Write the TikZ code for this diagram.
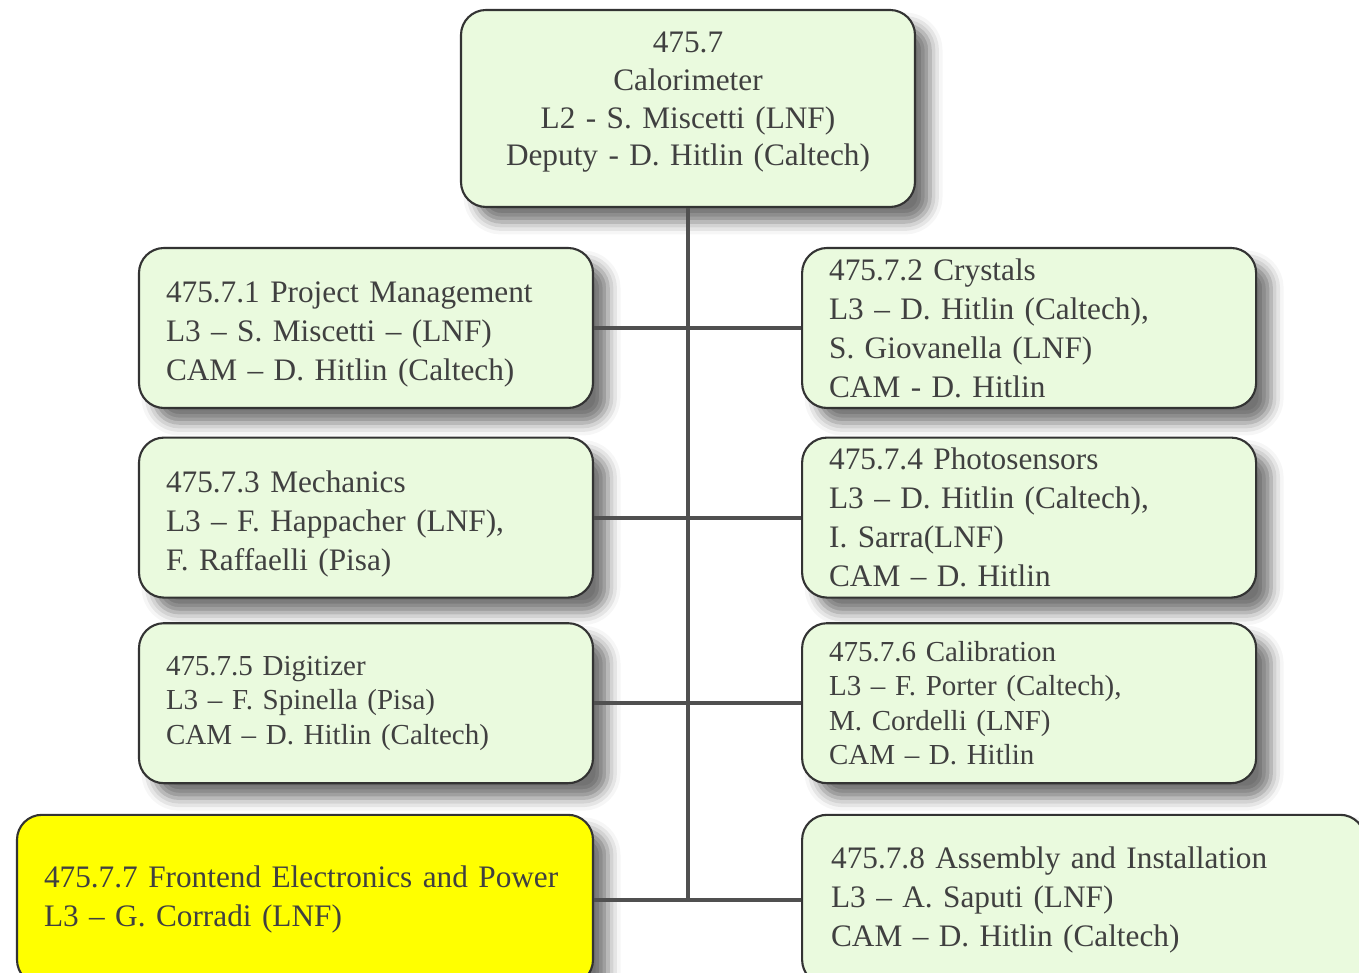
\documentclass[tikz,border=0pt]{standalone}
\usepackage{fontspec}
\setmainfont{Liberation Serif}
\usetikzlibrary{positioning,shadows.blur}
\definecolor{wbsgreen}{RGB}{234,250,222}
\definecolor{wbsyellow}{RGB}{255,255,0}
\definecolor{wbsline}{RGB}{80,80,80}
\definecolor{wbstext}{RGB}{64,64,64}

\begin{document}
\begin{tikzpicture}[thick,
  wbs/.style={rectangle,draw=black!80,line width=1.2pt,rounded corners=5mm,fill=wbsgreen,
                blur shadow={shadow xshift=3mm,shadow yshift=-3mm,shadow blur radius=2.5mm,shadow opacity=55},
                minimum width=9.08cm,minimum height=3.2cm,
                inner xsep=0.54cm,text width=8cm,align=left,
                text=wbstext,font=\fontsize{17.8}{22.2}\selectfont},
  wbs-small/.style={wbs,font=\fontsize{16.5}{19.7}\selectfont},
  wbs-top/.style={wbs,minimum height=3.94cm,align=center,font=\fontsize{17.8}{21.4}\selectfont},
  wbs-low/.style={wbs,minimum height=3.4cm},
  link/.style={-,draw=wbsline,line width=2.3pt}]
  \useasboundingbox (0,0) rectangle (27.18,19.46);

    \node[wbs-top] (CAL) at (13.76,17.29) {475.7\\ Calorimeter\\ L2 - S. Miscetti (LNF)\\ Deputy - D. Hitlin (Caltech)\par\vspace*{2.4mm}};
    % left column
    \node[wbs] (PM) at (7.32,12.9) {475.7.1 Project Management\\ L3 -- S. Miscetti -- (LNF)\\ CAM -- D. Hitlin (Caltech)\par\vspace*{-2.4mm}};
    \node[wbs] (MECH) [below=0.55cm of PM] {475.7.3 Mechanics\\ L3 -- F. Happacher (LNF),\\ F. Raffaelli (Pisa)\par\vspace*{-2.4mm}};
    \node[wbs-small] (DIGI) [below=0.47cm of MECH] {475.7.5 Digitizer\\ L3 -- F. Spinella (Pisa)\\ CAM -- D. Hitlin (Caltech)};
    \node[wbs-low,fill=wbsyellow,minimum width=11.52cm,text width=10.44cm] (FEE)
      [below=0.59cm of DIGI.south east,anchor=north east] {475.7.7 Frontend Electronics and Power\\ L3 -- G. Corradi (LNF)};
    % right column
    \node[wbs] (CRY) [right=4.14cm of PM] {475.7.2 Crystals\\ L3 -- D. Hitlin (Caltech),\\ S. Giovanella (LNF)\\ CAM - D. Hitlin};
    \node[wbs] (PHOTO) [right=4.14cm of MECH] {475.7.4 Photosensors\\ L3 -- D. Hitlin (Caltech),\\ I. Sarra(LNF)\\ CAM -- D. Hitlin};
    \node[wbs-small] (CALIB) [right=4.14cm of DIGI] {475.7.6 Calibration\\ L3 -- F. Porter (Caltech),\\ M. Cordelli (LNF)\\ CAM -- D. Hitlin};
    \node[wbs-low,minimum width=11.26cm,text width=10.1cm] (ASSY) [right=4.14cm of FEE] {475.7.8 Assembly and Installation\\ L3 -- A. Saputi (LNF)\\ CAM -- D. Hitlin (Caltech)};

    \path[link] (CAL.south) edge (CAL.south |- FEE.east)
     (PM.east) edge (CRY.west)
     (MECH.east) edge (PHOTO.west)
     (DIGI.east) edge (CALIB.west)
     (FEE.east) edge (ASSY.west);

  \end{tikzpicture}
\end{document}
